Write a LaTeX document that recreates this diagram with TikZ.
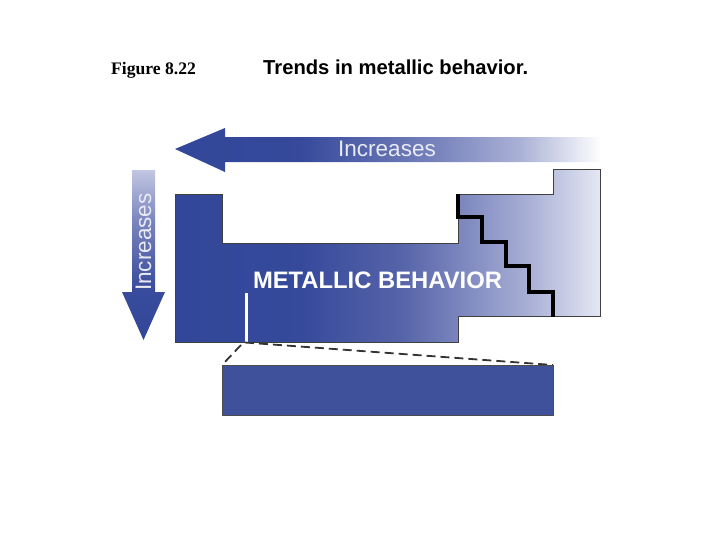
\documentclass[tikz,border=0pt]{standalone}
\usepackage{fontspec}
\setmainfont{Liberation Serif}
\newfontfamily\arialf{Liberation Sans}
\definecolor{dblue}{HTML}{33479A}
\definecolor{mblue}{HTML}{5563A8}
\definecolor{lblue}{HTML}{7A85BD}
\definecolor{pblue}{HTML}{AAB1D6}
\definecolor{wblue}{HTML}{E4E7F3}
\definecolor{boxblue}{HTML}{3F519B}
\definecolor{txtlight}{HTML}{E8EAF4}
\pgfdeclarehorizontalshading{metal}{100bp}{color(0bp)=(dblue); color(25bp)=(dblue); color(39.7bp)=(dblue!92!mblue); color(51.5bp)=(mblue); color(58.3bp)=(lblue); color(66.8bp)=(pblue); color(75bp)=(wblue); color(100bp)=(wblue)}
\pgfdeclarehorizontalshading{toparrow}{100bp}{color(0bp)=(dblue); color(25bp)=(dblue); color(39.7bp)=(dblue!92!mblue); color(56.2bp)=(lblue); color(65.6bp)=(pblue); color(75bp)=(white!95!wblue); color(100bp)=(white)}
\pgfdeclareverticalshading{downarrow}{100bp}{color(0bp)=(dblue); color(25bp)=(dblue); color(40bp)=(dblue!85!mblue); color(60bp)=(lblue); color(75bp)=(pblue!60!wblue); color(100bp)=(wblue)}
\tikzset{
  sanslabel/.style={font=\arialf\fontsize{22.5}{24}\selectfont, text=txtlight, inner sep=0pt},
  outline/.style={draw=black!75, line width=0.9pt},
  stair/.style={draw=black, line width=3.4pt, line join=miter},
  zoomline/.style={draw=black!80, line width=1.8pt, dash pattern=on 9pt off 5pt}
}
\begin{document}
\begin{tikzpicture}[x=1pt,y=-1pt]
\path[use as bounding box] (0,0) rectangle (728,546);
% titles
\node[anchor=base west, inner sep=0pt, font=\bfseries\fontsize{17.6}{19}\selectfont] (fig) at (111,74) {Figure 8.22};
\node[anchor=base west, inner sep=0pt, font=\arialf\bfseries\fontsize{20.2}{21}\selectfont] (title) at (263,74) {Trends in metallic behavior.};
% top arrow
\shade[shading=toparrow] (175,149) -- (225,128) -- (225,137) -- (600,137) -- (600,162) -- (225,162) -- (225,172) -- cycle;
\node[sanslabel] (topinc) at (387,149) {Increases};
% down arrow
\shade[shading=downarrow] (132,170) -- (155,170) -- (155,292) -- (165,292) -- (143.5,340) -- (122,292) -- (132,292) -- cycle;
\node[sanslabel, rotate=90] (leftinc) at (143.5,242) {Increases};
% periodic table shape
\shade[shading=metal, outline] (175,194) -- (222,194) -- (222,243) -- (458,243) -- (458,194) -- (553,194) -- (553,169) -- (600,169) -- (600,316) -- (458,316) -- (458,342) -- (175,342) -- cycle;
% staircase
\draw[stair] (458,194) -- (458,217) -- (482,217) -- (482,242) -- (506,242) -- (506,266) -- (529,266) -- (529,292) -- (553,292) -- (553,316.5);
\node[font=\arialf\bfseries\fontsize{23.8}{25}\selectfont, text=white, inner sep=0pt] (metal) at (377.5,280.5) {METALLIC BEHAVIOR};
% white marker
\draw[white, line width=3pt] (246,293) -- (246,341.5);
% zoom lines
\coordinate (m) at (245,342.5);
\coordinate (ml) at (241,345);
\draw[zoomline] (m) -- (553,365);
\draw[zoomline] (ml) -- (222,365);
% bottom box
\node[draw=black!70, line width=0.8pt, fill=boxblue, minimum width=331pt, minimum height=50pt, inner sep=0pt, anchor=north west] (box) at (222,365) {};
\end{tikzpicture}
\end{document}
